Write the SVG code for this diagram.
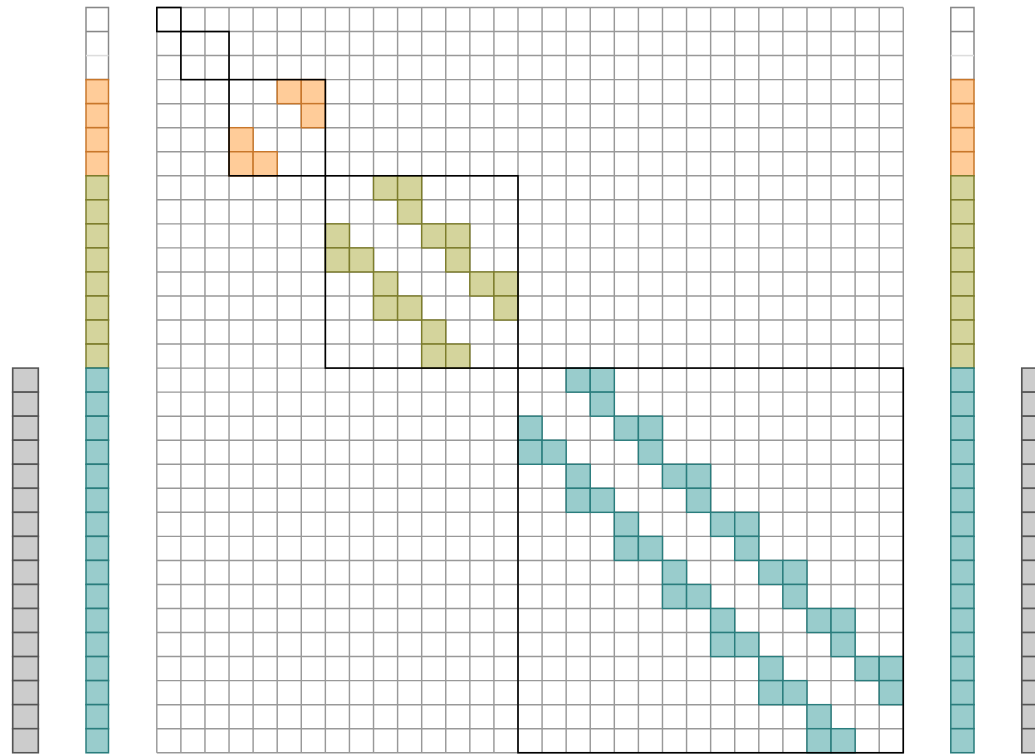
<svg xmlns="http://www.w3.org/2000/svg" xmlns:xlink="http://www.w3.org/1999/xlink" width="1035" height="755" viewBox="0 0 1035 755">
<style>
.grid{fill:none;stroke:#999;stroke-width:0.06}
.blk{fill:none;stroke:#000;stroke-width:0.066}
.o{fill:#ffcc99;stroke:#c8772b}
.y{fill:#d4d49c;stroke:#7d7d2c}
.t{fill:#99cccc;stroke:#2a7d7d}
.g{fill:#cccccc;stroke:#555}
.w{fill:#fff;stroke:#888}
.m use{stroke-width:0.06}
.v use,.v rect,.v path{stroke-width:0.065}
</style>
<defs>
<rect id="c" width="1" height="1"/>
</defs>
<rect width="1035" height="755" fill="#fff"/>
<g id="matrix" class="m" transform="translate(156.8 7.5) scale(24.08 24.04)">
<rect x="0" y="0" width="31" height="31" fill="#fff"/>
<path class="grid" d="M0 0H31M0 1H31M0 2H31M0 3H31M0 4H31M0 5H31M0 6H31M0 7H31M0 8H31M0 9H31M0 10H31M0 11H31M0 12H31M0 13H31M0 14H31M0 15H31M0 16H31M0 17H31M0 18H31M0 19H31M0 20H31M0 21H31M0 22H31M0 23H31M0 24H31M0 25H31M0 26H31M0 27H31M0 28H31M0 29H31M0 30H31M0 31H31M0 0V31M1 0V31M2 0V31M3 0V31M4 0V31M5 0V31M6 0V31M7 0V31M8 0V31M9 0V31M10 0V31M11 0V31M12 0V31M13 0V31M14 0V31M15 0V31M16 0V31M17 0V31M18 0V31M19 0V31M20 0V31M21 0V31M22 0V31M23 0V31M24 0V31M25 0V31M26 0V31M27 0V31M28 0V31M29 0V31M30 0V31M31 0V31"/>
<g class="o">
<use href="#c" x="5" y="3"/><use href="#c" x="6" y="3"/><use href="#c" x="6" y="4"/><use href="#c" x="3" y="5"/><use href="#c" x="3" y="6"/><use href="#c" x="4" y="6"/>
</g>
<g class="y">
<use href="#c" x="9" y="7"/><use href="#c" x="10" y="7"/>
<use href="#c" x="10" y="8"/>
<use href="#c" x="7" y="9"/><use href="#c" x="11" y="9"/><use href="#c" x="12" y="9"/>
<use href="#c" x="7" y="10"/><use href="#c" x="8" y="10"/><use href="#c" x="12" y="10"/>
<use href="#c" x="9" y="11"/><use href="#c" x="13" y="11"/><use href="#c" x="14" y="11"/>
<use href="#c" x="9" y="12"/><use href="#c" x="10" y="12"/><use href="#c" x="14" y="12"/>
<use href="#c" x="11" y="13"/>
<use href="#c" x="11" y="14"/><use href="#c" x="12" y="14"/>
</g>
<g class="t">
<use href="#c" x="17" y="15"/><use href="#c" x="18" y="15"/>
<use href="#c" x="18" y="16"/>
<use href="#c" x="15" y="17"/><use href="#c" x="19" y="17"/><use href="#c" x="20" y="17"/>
<use href="#c" x="15" y="18"/><use href="#c" x="16" y="18"/><use href="#c" x="20" y="18"/>
<use href="#c" x="17" y="19"/><use href="#c" x="21" y="19"/><use href="#c" x="22" y="19"/>
<use href="#c" x="17" y="20"/><use href="#c" x="18" y="20"/><use href="#c" x="22" y="20"/>
<use href="#c" x="19" y="21"/><use href="#c" x="23" y="21"/><use href="#c" x="24" y="21"/>
<use href="#c" x="19" y="22"/><use href="#c" x="20" y="22"/><use href="#c" x="24" y="22"/>
<use href="#c" x="21" y="23"/><use href="#c" x="25" y="23"/><use href="#c" x="26" y="23"/>
<use href="#c" x="21" y="24"/><use href="#c" x="22" y="24"/><use href="#c" x="26" y="24"/>
<use href="#c" x="23" y="25"/><use href="#c" x="27" y="25"/><use href="#c" x="28" y="25"/>
<use href="#c" x="23" y="26"/><use href="#c" x="24" y="26"/><use href="#c" x="28" y="26"/>
<use href="#c" x="25" y="27"/><use href="#c" x="29" y="27"/><use href="#c" x="30" y="27"/>
<use href="#c" x="25" y="28"/><use href="#c" x="26" y="28"/><use href="#c" x="30" y="28"/>
<use href="#c" x="27" y="29"/>
<use href="#c" x="27" y="30"/><use href="#c" x="28" y="30"/>
</g>
<rect class="blk" x="0" y="0" width="1" height="1"/>
<rect class="blk" x="1" y="1" width="2" height="2"/>
<rect class="blk" x="3" y="3" width="4" height="4"/>
<rect class="blk" x="7" y="7" width="8" height="8"/>
<rect class="blk" x="15" y="15" width="16" height="16"/>
</g>
<defs>
<g id="vec">
<rect class="w" x="0" y="0" width="1" height="3"/>
<path d="M0 1H1" stroke="#888"/>
<path d="M0 2H1" stroke="#ddd"/>
<g class="o"><use href="#c" y="3"/><use href="#c" y="4"/><use href="#c" y="5"/><use href="#c" y="6"/></g>
<g class="y"><use href="#c" y="7"/><use href="#c" y="8"/><use href="#c" y="9"/><use href="#c" y="10"/><use href="#c" y="11"/><use href="#c" y="12"/><use href="#c" y="13"/><use href="#c" y="14"/></g>
<g class="t"><use href="#c" y="15"/><use href="#c" y="16"/><use href="#c" y="17"/><use href="#c" y="18"/><use href="#c" y="19"/><use href="#c" y="20"/><use href="#c" y="21"/><use href="#c" y="22"/><use href="#c" y="23"/><use href="#c" y="24"/><use href="#c" y="25"/><use href="#c" y="26"/><use href="#c" y="27"/><use href="#c" y="28"/><use href="#c" y="29"/><use href="#c" y="30"/></g>
</g>
<g id="gvec" class="g">
<use href="#c" y="0"/><use href="#c" y="1"/><use href="#c" y="2"/><use href="#c" y="3"/><use href="#c" y="4"/><use href="#c" y="5"/><use href="#c" y="6"/><use href="#c" y="7"/><use href="#c" y="8"/><use href="#c" y="9"/><use href="#c" y="10"/><use href="#c" y="11"/><use href="#c" y="12"/><use href="#c" y="13"/><use href="#c" y="14"/><use href="#c" y="15"/>
</g>
</defs>
<g id="vec-left" class="v" transform="translate(86 7.5) scale(22.5 24.04)"><use href="#vec"/></g>
<g id="vec-right" class="v" transform="translate(950.8 7.5) scale(23.2 24.04)"><use href="#vec"/></g>
<g id="gray-left" class="v" transform="translate(12.7 368.1) scale(25.6 24.04)"><use href="#gvec"/></g>
<g id="gray-right" class="v" transform="translate(1021.8 368.1) scale(25.6 24.04)"><use href="#gvec"/></g>
</svg>
